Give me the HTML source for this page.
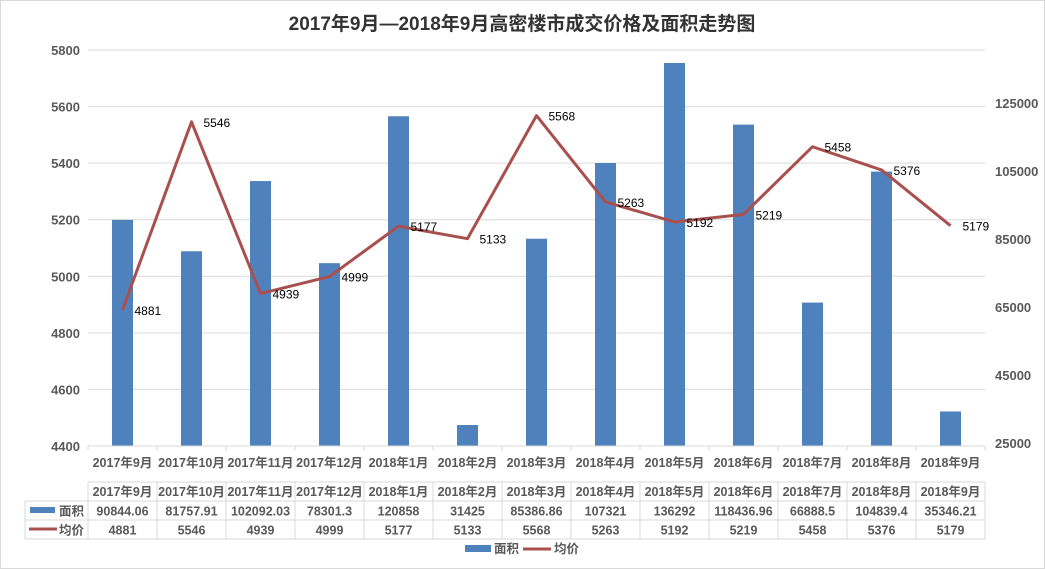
<!DOCTYPE html>
<html><head><meta charset="utf-8"><style>
html,body{margin:0;padding:0;background:#fff}
svg{display:block;font-family:"Liberation Sans","Noto Sans CJK SC",sans-serif}
</style></head><body>
<svg id="s" width="1045" height="569" xmlns="http://www.w3.org/2000/svg"></svg>
<script>
var s=document.getElementById('s');var h='';
h+='<rect x="0.5" y="0.5" width="1044" height="568" fill="#fff" stroke="#d9d9d9"/>';
h+='<text x="522" y="30" text-anchor="middle" font-size="19" font-weight="bold" fill="#333">2017年9月—2018年9月高密楼市成交价格及面积走势图</text>';
var L=[5800,5600,5400,5200,5000,4800,4600,4400];
function py(p){return 50+(5800-p)*396/1400;}
L.forEach(function(v){var y=py(v);h+='<line x1="88" x2="985" y1="'+y+'" y2="'+y+'" stroke="#d9d9d9"/>';
h+='<text x="80" y="'+(y+5)+'" text-anchor="end" font-size="13" font-weight="bold" fill="#595959">'+v+'</text>';});
[[125000,103],[105000,171],[85000,239],[65000,307],[45000,375],[25000,443]].forEach(function(a){
h+='<text x="995" y="'+(a[1]+5)+'" font-size="13" font-weight="bold" fill="#595959">'+a[0]+'</text>';});
var cat=['2017年9月','2017年10月','2017年11月','2017年12月','2018年1月','2018年2月','2018年3月','2018年4月','2018年5月','2018年6月','2018年7月','2018年8月','2018年9月'];
var area=['90844.06','81757.91','102092.03','78301.3','120858','31425','85386.86','107321','136292','118436.96','66888.5','104839.4','35346.21'];
var price=[4881,5546,4939,4999,5177,5133,5568,5263,5192,5219,5458,5376,5179];
var w=(985-88)/13;
function cx(i){return 88+w*(i+0.5);}
area.forEach(function(a,i){var y=63+(136292-parseFloat(a))*0.003452;
h+='<rect x="'+(cx(i)-10.5)+'" y="'+y+'" width="21" height="'+(446-y)+'" fill="#4f81bd"/>';});
var pts=price.map(function(p,i){return cx(i)+','+py(p);}).join(' ');
h+='<polyline points="'+pts+'" fill="none" stroke="#a9504f" stroke-width="3" stroke-linejoin="round"/>';
price.forEach(function(p,i){h+='<text x="'+(cx(i)+12)+'" y="'+(py(p)+5)+'" font-size="12" fill="#000">'+p+'</text>';});
h+='<line x1="88" x2="985" y1="446" y2="446" stroke="#d9d9d9"/>';
for(var i=0;i<=13;i++){var x=88+w*i;h+='<line x1="'+x+'" x2="'+x+'" y1="446" y2="451" stroke="#d9d9d9"/>';}
cat.forEach(function(c,i){h+='<text x="'+cx(i)+'" y="467" text-anchor="middle" font-size="12.5" font-weight="bold" fill="#595959">'+c+'</text>';});
h+='<line x1="88" x2="985" y1="482" y2="482" stroke="#d9d9d9"/>';
[501,520,539].forEach(function(y){h+='<line x1="25" x2="985" y1="'+y+'" y2="'+y+'" stroke="#d9d9d9"/>';});
h+='<line x1="25" x2="25" y1="501" y2="539" stroke="#d9d9d9"/>';
for(var i=0;i<=13;i++){var x=88+w*i;h+='<line x1="'+x+'" x2="'+x+'" y1="482" y2="539" stroke="#d9d9d9"/>';}
cat.forEach(function(c,i){h+='<text x="'+cx(i)+'" y="496" text-anchor="middle" font-size="12.5" font-weight="bold" fill="#595959">'+c+'</text>';
h+='<text x="'+cx(i)+'" y="515.5" text-anchor="middle" font-size="12.5" font-weight="bold" fill="#595959">'+area[i]+'</text>';
h+='<text x="'+cx(i)+'" y="534.5" text-anchor="middle" font-size="12.5" font-weight="bold" fill="#595959">'+price[i]+'</text>';});
h+='<rect x="30" y="507" width="25" height="6" fill="#4f81bd"/><text x="84" y="515.5" text-anchor="end" font-size="12.5" font-weight="bold" fill="#595959">面积</text>';
h+='<line x1="29" x2="57" y1="529" y2="529" stroke="#a9504f" stroke-width="3"/><text x="84" y="534.5" text-anchor="end" font-size="12.5" font-weight="bold" fill="#595959">均价</text>';
h+='<rect x="465" y="545" width="26" height="7" fill="#4f81bd"/><text x="494" y="553" font-size="12.5" font-weight="bold" fill="#595959">面积</text>';
h+='<line x1="523" x2="551" y1="549" y2="549" stroke="#a9504f" stroke-width="3"/><text x="554" y="553" font-size="12.5" font-weight="bold" fill="#595959">均价</text>';
s.innerHTML=h;
</script>
</body></html>
